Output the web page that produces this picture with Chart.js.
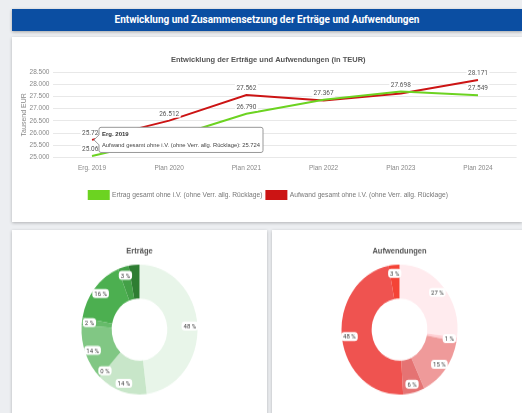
<!DOCTYPE html>
<html>
<head>
<meta charset="utf-8">
<script src="https://cdn.jsdelivr.net/npm/chart.js@4.4.0/dist/chart.umd.min.js"></script>
<style>
  html, body { margin: 0; padding: 0; }
  body { width: 522px; height: 413px; overflow: hidden; position: relative; background: #eceef1; font-family: Roboto, sans-serif; }
  .header { position: absolute; left: 12px; top: 9px; width: 510px; height: 22px; background: #0b4ea2; color: #fff; font-weight: bold; font-size: 10px; line-height: 22px; text-align: center; box-shadow: 0 1px 3px rgba(0,0,0,.3); }
  .card { position: absolute; background: #fff; box-shadow: 0 1px 3px rgba(0,0,0,.25); }
  #card1 { left: 12px; top: 37px; width: 510px; height: 185px; }
  #card2 { left: 12px; top: 230px; width: 255px; height: 200px; }
  #card3 { left: 272px; top: 230px; width: 255px; height: 200px; }
  #line { position: absolute; left: 12px; top: 48px; }
  .pie { position: absolute; top: 240px; transform: scaleY(1.12); transform-origin: 0 0; }
  #pie1 { left: 12px; }
  #pie2 { left: 272px; }
</style>
</head>
<body>
<div class="header">Entwicklung und Zusammensetzung der Erträge und Aufwendungen</div>
<div class="card" id="card1"></div>
<div class="card" id="card2"></div>
<div class="card" id="card3"></div>
<canvas id="line" width="510" height="165"></canvas>
<canvas id="pie1" class="pie" width="255" height="140"></canvas>
<canvas id="pie2" class="pie" width="255" height="140"></canvas>
<script>
const years = ['Erg. 2019', 'Plan 2020', 'Plan 2021', 'Plan 2022', 'Plan 2023', 'Plan 2024'];
const ertrag = [25063, 25800, 26790, 27367, 27698, 27549];
const aufwand = [25724, 26512, 27562, 27330, 27620, 28171];

const ertraegeShares = [48, 14, 0, 14, 2, 16, 3, 3];
const ertraegeColors = ['#e8f5e9', '#c8e6c9', '#a5d6a7', '#81c784', '#66bb6a', '#4caf50', '#43a047', '#2e7d32'];
const aufwandShares = [27, 1, 15, 6, 48, 3];
const aufwandColors = ['#ffebee', '#ffcdd2', '#ef9a9a', '#e57373', '#ef5350', '#f44336'];

const fmt = (v) => String(Math.round(v)).replace(/\B(?=(\d{3})+(?!\d))/g, '.');

function overlaps(a, b) {
    return a.x < b.x + b.w && b.x < a.x + a.w && a.y < b.y + b.h && b.y < a.y + a.h;
}

// labels above the line points, overlapping ones get dropped
const valueLabels = {
    id: 'valueLabels',
    afterDatasetsDraw(chart) {
        const ctx = chart.ctx;
        const drawn = [];
        ctx.save();
        ctx.font = '6.5px Roboto';
        ctx.textAlign = 'center';
        ctx.textBaseline = 'middle';
        chart.data.datasets.forEach((ds, di) => {
            chart.getDatasetMeta(di).data.forEach((pt, i) => {
                const text = fmt(ds.data[i]);
                const w = ctx.measureText(text).width + 3;
                const h = 8;
                const box = { x: pt.x - w / 2, y: pt.y - 7 - h / 2, w, h };
                if (drawn.some((o) => overlaps(o, box))) return;
                drawn.push(box);
                ctx.fillStyle = '#fff';
                ctx.fillRect(box.x, box.y, w, h);
                ctx.fillStyle = '#555';
                ctx.fillText(text, pt.x, pt.y - 7 + 0.5);
            });
        });
        ctx.restore();
    }
};

const arcLabels = {
    id: 'arcLabels',
    afterDatasetsDraw(chart) {
        const ctx = chart.ctx;
        const values = chart.data.datasets[0].data;
        const drawn = [];
        ctx.save();
        ctx.font = '6px Roboto';
        ctx.textAlign = 'center';
        ctx.textBaseline = 'middle';
        chart.getDatasetMeta(0).data.forEach((arc, i) => {
            const a = (arc.startAngle + arc.endAngle) / 2;
            const r = arc.innerRadius + (arc.outerRadius - arc.innerRadius) * 0.75;
            const x = arc.x + Math.cos(a) * r;
            const y = arc.y + Math.sin(a) * r;
            const text = values[i] + ' %';
            const w = ctx.measureText(text).width + 4;
            const h = 8;
            const box = { x: x - w / 2, y: y - h / 2, w, h };
            if (drawn.some((o) => overlaps(o, box))) return;
            drawn.push(box);
            ctx.fillStyle = '#fff';
            ctx.beginPath();
            ctx.roundRect(box.x, box.y, w, h, 3);
            ctx.fill();
            ctx.fillStyle = '#444';
            ctx.fillText(text, x, y + 0.5);
        });
        ctx.restore();
    }
};

const lineChart = new Chart(document.getElementById('line'), {
    type: 'line',
    data: {
        labels: years,
        datasets: [
            {
                label: 'Ertrag gesamt ohne i.V. (ohne Verr. allg. Rücklage)',
                data: ertrag,
                borderColor: '#6cd321',
                backgroundColor: '#6cd321',
                borderWidth: 2,
                pointRadius: 0,
                pointHoverRadius: 0
            },
            {
                label: 'Aufwand gesamt ohne i.V. (ohne Verr. allg. Rücklage)',
                data: aufwand,
                borderColor: '#cc1414',
                backgroundColor: '#cc1414',
                borderWidth: 2,
                pointRadius: 0,
                pointHoverRadius: 0
            }
        ]
    },
    options: {
        responsive: false,
        animation: false,
        layout: { padding: { left: 8, right: 5.4, bottom: 4 } },
        scales: {
            x: {
                offset: true,
                grid: { display: false, drawTicks: false },
                border: { display: false },
                ticks: { color: '#888', font: { size: 6.5 }, padding: 6.4 },
                afterFit: (scale) => { scale.height = 29.4; }
            },
            y: {
                min: 25000,
                max: 28500,
                ticks: {
                    stepSize: 500,
                    color: '#888',
                    font: { size: 6.5 },
                    padding: 4,
                    callback: (value) => fmt(value)
                },
                grid: { color: '#e8e8e8', drawTicks: false },
                border: { display: false },
                title: {
                    display: true,
                    text: 'Tausend EUR',
                    color: '#888',
                    font: { size: 7 },
                    padding: { top: 0, bottom: 4 }
                },
                afterFit: (scale) => { scale.width = 33.4; }
            }
        },
        plugins: {
            title: {
                display: true,
                text: 'Entwicklung der Erträge und Aufwendungen (in TEUR)',
                color: '#555',
                font: { size: 7.5, weight: 'bold' },
                padding: { top: 7, bottom: 8 }
            },
            legend: {
                position: 'bottom',
                labels: { boxWidth: 20, boxHeight: 8, padding: 4, color: '#777', font: { size: 6.7 } }
            },
            tooltip: {
                backgroundColor: '#fff',
                borderColor: '#999',
                borderWidth: 1,
                titleColor: '#333',
                bodyColor: '#444',
                titleFont: { size: 6, weight: 'bold' },
                bodyFont: { size: 5.8 },
                padding: { x: 3, y: 3.5 },
                titleMarginBottom: 4,
                cornerRadius: 2,
                displayColors: false,
                callbacks: {
                    label: (context) => context.dataset.label + ': ' + fmt(context.raw)
                }
            }
        }
    },
    plugins: [valueLabels]
});

const hovered = lineChart.getDatasetMeta(1).data[0];
lineChart.tooltip.setActiveElements([{ datasetIndex: 1, index: 0 }], { x: hovered.x, y: hovered.y });
lineChart.update();

function drawDoughnut(id, title, values, colors) {
    return new Chart(document.getElementById(id), {
        type: 'doughnut',
        data: {
            labels: values.map((_, i) => title + ' ' + (i + 1)),
            datasets: [{ data: values, backgroundColor: colors, borderWidth: 0 }]
        },
        options: {
            responsive: false,
            animation: false,
            cutout: '48%',
            layout: { padding: { bottom: 2 } },
            plugins: {
                legend: { display: false },
                tooltip: { enabled: false },
                title: {
                    display: true,
                    text: title,
                    color: '#555',
                    font: { size: 7.5, weight: 'bold' },
                    padding: { top: 5, bottom: 8 }
                }
            }
        },
        plugins: [arcLabels]
    });
}

drawDoughnut('pie1', 'Erträge', ertraegeShares, ertraegeColors);
drawDoughnut('pie2', 'Aufwendungen', aufwandShares, aufwandColors);
</script>
</body>
</html>
